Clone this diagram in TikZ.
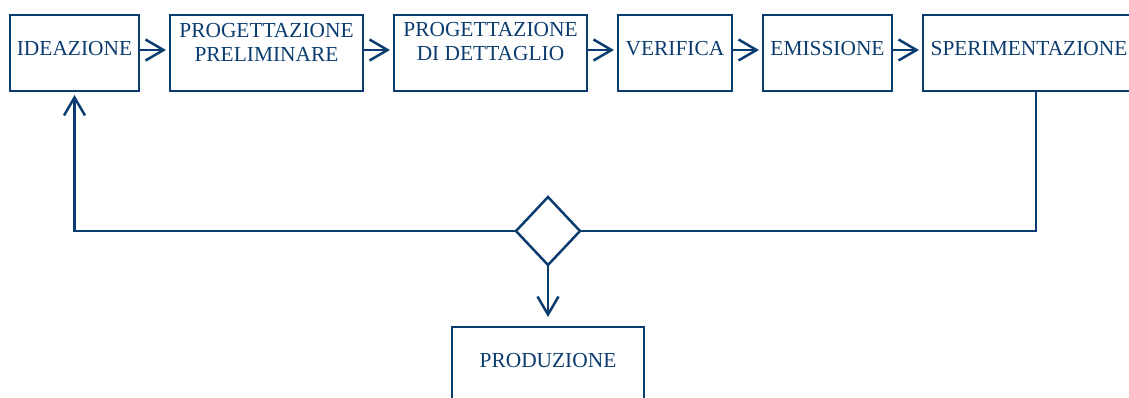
\documentclass[tikz,border=0pt]{standalone}
\usepackage{fontspec}
\setmainfont{Liberation Serif}
\usetikzlibrary{positioning}
\usetikzlibrary{arrows.meta}
\usetikzlibrary{shapes.geometric}
\definecolor{flowblue}{HTML}{0B3C6F}

\begin{document}
\begin{tikzpicture}[x=1pt, y=-1pt, node distance=31pt,
    box/.style={draw=flowblue, line width=2.5pt, minimum height=76pt, inner sep=0pt, outer sep=0pt},
    lbl/.style={text=flowblue, font=\fontsize{21.4}{24}\selectfont, align=center, inner sep=0pt},
    link/.style={draw=flowblue, line width=2.5pt},
    flow/.style={link, -{Straight Barb[length=18pt,width=21pt]}, shorten >=4pt}]
  \clip (0,0) rectangle (1129,397);

  % top row
  \node[box, minimum width=129pt] (ide) at (74.5,53) {};
  \node[box, minimum width=193pt, right=of ide] (pre) {};
  \node[box, minimum width=193pt, right=of pre] (det) {};
  \node[box, minimum width=114pt, right=of det] (ver) {};
  \node[box, minimum width=129pt, right=of ver] (emi) {};
  \node[box, minimum width=226pt, right=of emi] (spe) {};

  \node[lbl] (ide-t) at ([yshift=4pt]ide.center) {IDEAZIONE};
  \node[lbl] (pre-t) at ([yshift=11pt]pre.center) {PROGETTAZIONE\\PRELIMINARE};
  \node[lbl] (det-t) at ([yshift=11pt]det.center) {PROGETTAZIONE\\DI DETTAGLIO};
  \node[lbl] (ver-t) at ([yshift=4pt]ver.center) {VERIFICA};
  \node[lbl] (emi-t) at ([yshift=4pt]emi.center) {EMISSIONE};
  \node[lbl] (spe-t) at ([xshift=-7pt,yshift=4pt]spe.center) {SPERIMENTAZIONE};

  % decision and output
  \node[draw=flowblue, line width=2.5pt, diamond, minimum width=64pt, minimum height=68pt, inner sep=0pt, outer sep=0pt] (dec) at (548,231) {};
  \node[box, minimum width=192pt] (prd) at (548,365) {};
  \node[lbl] (prd-t) at ([yshift=4.5pt]prd.center) {PRODUZIONE};

  \draw[flow] ([yshift=3pt]ide.east) -- ([yshift=3pt]pre.west);
  \draw[flow] ([yshift=3pt]pre.east) -- ([yshift=3pt]det.west);
  \draw[flow] ([yshift=3pt]det.east) -- ([yshift=3pt]ver.west);
  \draw[flow] ([yshift=3pt]ver.east) -- ([yshift=3pt]emi.west);
  \draw[flow] ([yshift=3pt]emi.east) -- ([yshift=3pt]spe.west);

  \draw[link] (spe.south) |- (dec.east);
  \draw[flow] (dec.west) -| (ide.south);
  \draw[flow, shorten >=10pt] (dec.south) -- (prd.north);
\end{tikzpicture}
\end{document}
